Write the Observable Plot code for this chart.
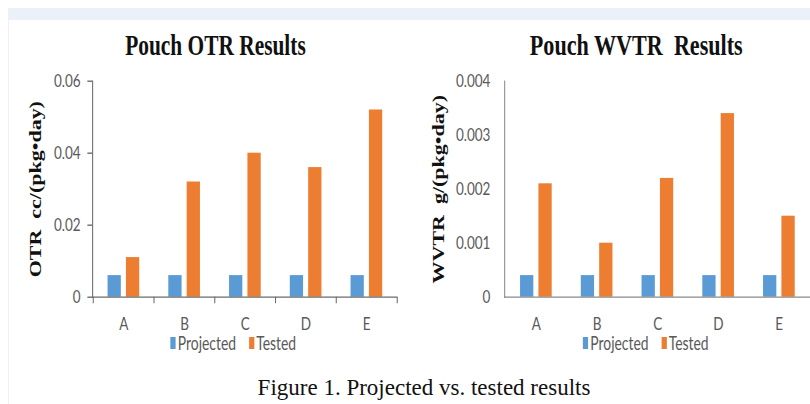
<!DOCTYPE html>
<html>
<head>
<meta charset="utf-8">
<script src="https://cdn.jsdelivr.net/npm/d3@7"></script>
<script src="https://cdn.jsdelivr.net/npm/@observablehq/plot@0.6"></script>
<style>
  html, body { margin: 0; padding: 0; background: #ffffff; }
  body { width: 810px; height: 404px; overflow: hidden; position: relative; }
  #strip { position: absolute; left: 8px; top: 8px; width: 802px; height: 12px; background: #ecf0f9; }
  #edge { position: absolute; left: 8px; top: 20px; width: 1px; height: 384px; background: #edf0f4; }
  #stage { position: absolute; left: 0; top: 0; width: 1080px; height: 404px; transform: scaleX(0.75); transform-origin: 0 0; }
  .title { position: absolute; top: 31px; font-family: "Liberation Serif", "Times New Roman", serif; font-weight: bold; line-height: 29px; white-space: pre; color: #111; transform: translateX(-50%); }
  .chart { position: absolute; top: 60px; }
  .chart svg { overflow: visible; }
  .legend { position: absolute; top: 333px; display: flex; align-items: center; transform: translateX(-50%); font-family: Lato, "Liberation Sans", sans-serif; font-size: 18.5px; line-height: 20px; color: #595959; white-space: nowrap; }
  .legend .item { display: flex; align-items: center; margin-right: 17px; }
  .legend .item:last-child { margin-right: 0; }
  .legend .sw { width: 7px; height: 12px; margin-right: 3px; }
  #caption { position: absolute; left: 0; width: 848px; top: 376px; text-align: center; font-family: "Liberation Serif", "Times New Roman", serif; font-size: 23px; line-height: 23px; color: #111; white-space: nowrap; }
</style>
</head>
<body>
<div id="strip"></div>
<div id="edge"></div>
<div id="stage"></div>
<div id="caption"></div>
<script>
// ---- data ----
const categories = ["A", "B", "C", "D", "E"];
const series = ["Projected", "Tested"];
const seriesColors = ["#5b9bd5", "#ed7d31"];

const otrProjected = [0.006, 0.006, 0.006, 0.006, 0.006];
const otrTested = [0.011, 0.032, 0.040, 0.036, 0.052];
const otrTicks = [0, 0.02, 0.04, 0.06];

const wvtrProjected = [0.0004, 0.0004, 0.0004, 0.0004, 0.0004];
const wvtrTested = [0.0021, 0.0010, 0.0022, 0.0034, 0.0015];
const wvtrTicks = [0, 0.001, 0.002, 0.003, 0.004];

const otrTitle = "Pouch OTR Results";
const wvtrTitle = "Pouch WVTR\u00a0 Results";
const otrLabel = "OTR\u00a0 cc/(pkg\u2022day)";
const wvtrLabel = "WVTR\u00a0 g/(pkg\u2022day)";
const captionText = "Figure 1. Projected vs. tested results";

function rows(proj, test) {
  return categories.flatMap((c, i) => [
    {cat: c, series: series[0], value: proj[i]},
    {cat: c, series: series[1], value: test[i]}
  ]);
}

const stage = document.getElementById("stage");

function addChart(cfg) {
  const data = rows(cfg.proj, cfg.test);
  const tickFmt = d => String(d);
  const marks = [
    Plot.barY(data.filter(d => d.series === series[0]), {x: "cat", y: "value", fill: "series", insetLeft: 19.4, insetRight: 43.9}),
    Plot.barY(data.filter(d => d.series === series[1]), {x: "cat", y: "value", fill: "series", insetLeft: 43.9, insetRight: 19.4}),
    Plot.frame({anchor: "left", stroke: cfg.axisColor, strokeWidth: 1.4}),
    Plot.ruleY([0], {stroke: cfg.axisColor, strokeWidth: 1.2}),
    Plot.axisY({ticks: cfg.ticks, tickFormat: tickFmt, tickSize: cfg.yTickSize, tickPadding: cfg.yTickPadding, label: null, stroke: cfg.axisColor, strokeWidth: 1.4}),
    Plot.axisX({tickSize: 0, tickPadding: 20, label: null}),
    Plot.text([cfg.yLabel], {frameAnchor: "left", textAnchor: "middle", rotate: -90, dx: cfg.labelDx, fontFamily: "Liberation Serif", fontWeight: "bold", fontSize: 22, fill: "#111"})
  ];
  if (cfg.boundaryTicks) {
    marks.push(Plot.axisX({tickSize: 6.5, tickFormat: () => "", dx: -40.65, label: null, stroke: cfg.axisColor, strokeWidth: 1.4}));
    marks.push(Plot.axisX({ticks: [categories[categories.length - 1]], tickSize: 6.5, tickFormat: () => "", dx: 40.65, label: null, stroke: cfg.axisColor, strokeWidth: 1.4}));
  }
  const plot = Plot.plot({
    width: cfg.width,
    height: 280,
    marginLeft: cfg.marginLeft,
    marginRight: cfg.marginRight,
    marginTop: 20.7,
    marginBottom: 43.3,
    x: {domain: categories, padding: 0},
    y: {domain: [cfg.ticks[0], cfg.ticks[cfg.ticks.length - 1]]},
    color: {domain: series, range: seriesColors},
    style: {fontFamily: "Lato, 'Liberation Sans', sans-serif", fontSize: "18px", color: "#595959", background: "transparent", overflow: "visible"},
    marks
  });
  const wrap = document.createElement("div");
  wrap.className = "chart";
  wrap.style.left = cfg.left + "px";
  wrap.appendChild(plot);
  stage.appendChild(wrap);

  const title = document.createElement("div");
  title.className = "title";
  title.style.left = cfg.titleX + "px";
  title.style.fontSize = cfg.titleSize + "px";
  title.textContent = cfg.title;
  stage.appendChild(title);

  const legend = document.createElement("div");
  legend.className = "legend";
  legend.style.left = cfg.legendX + "px";
  series.forEach((s, i) => {
    const item = document.createElement("div");
    item.className = "item";
    const sw = document.createElement("span");
    sw.className = "sw";
    sw.style.background = seriesColors[i];
    const tx = document.createElement("span");
    tx.textContent = s;
    item.appendChild(sw);
    item.appendChild(tx);
    legend.appendChild(item);
  });
  stage.appendChild(legend);
}

addChart({
  proj: otrProjected, test: otrTested, ticks: otrTicks,
  title: otrTitle, yLabel: otrLabel,
  left: 10.7, width: 530, marginLeft: 112, marginRight: 11.4,
  yTickSize: 6.5, yTickPadding: 9.5, labelDx: -76,
  axisColor: "#6b6b6b", boundaryTicks: true,
  titleX: 287.3, titleSize: 28.5, legendX: 311
});

addChart({
  proj: wvtrProjected, test: wvtrTested, ticks: wvtrTicks,
  title: wvtrTitle, yLabel: wvtrLabel,
  left: 540, width: 540, marginLeft: 132.4, marginRight: 0,
  yTickSize: 0, yTickPadding: 19, labelDx: -87.7,
  axisColor: "#8a8a8a", boundaryTicks: false,
  titleX: 848.4, titleSize: 29.5, legendX: 861
});

document.getElementById("caption").textContent = captionText;
</script>
</body>
</html>
